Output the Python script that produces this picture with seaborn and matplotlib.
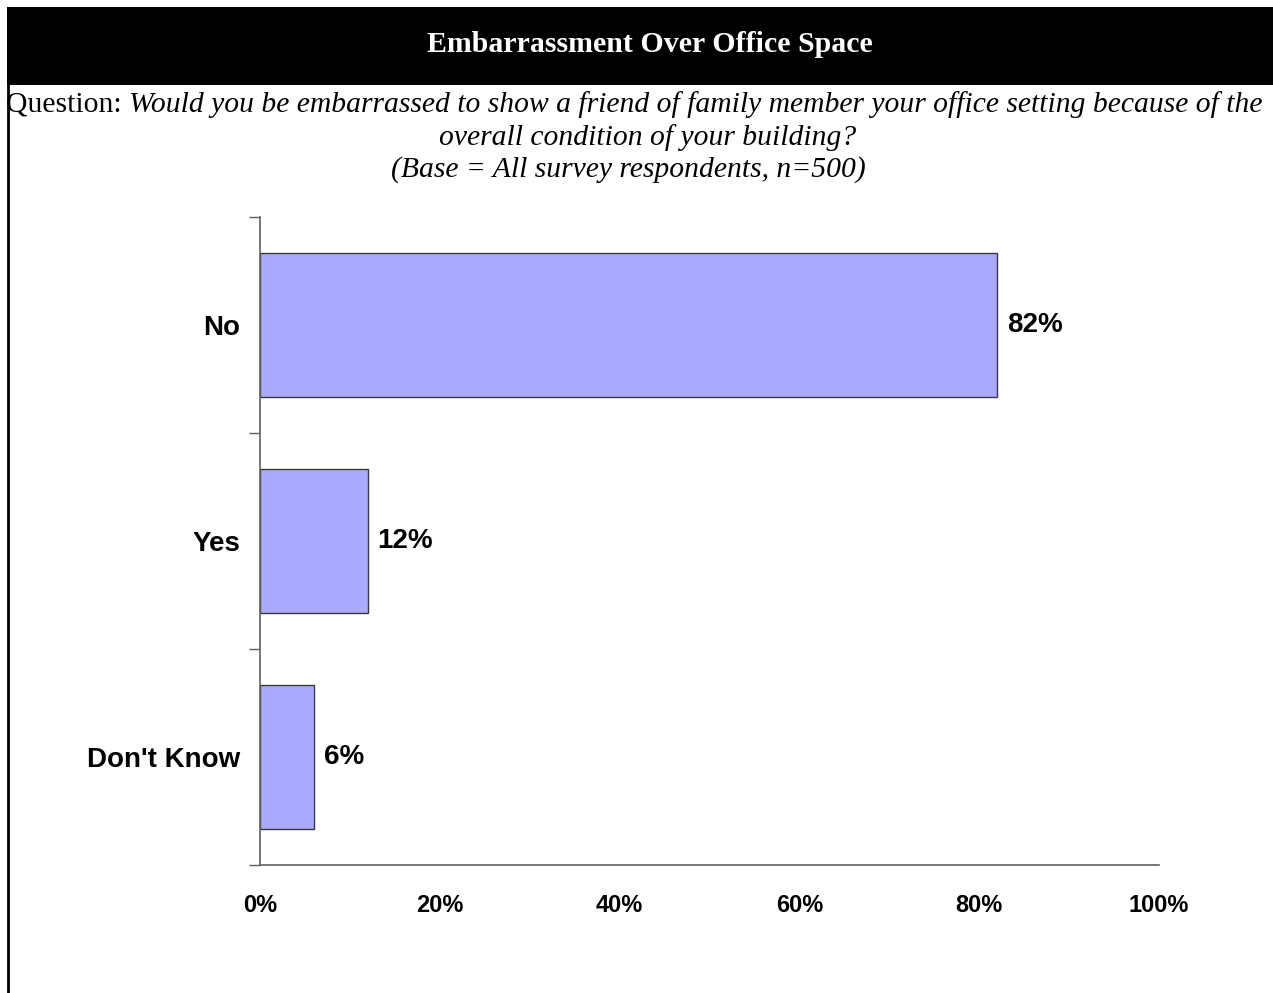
import matplotlib
matplotlib.use("Agg")
import matplotlib.pyplot as plt
from matplotlib.patches import Rectangle
from matplotlib.lines import Line2D
from matplotlib.ticker import FixedLocator, PercentFormatter
import seaborn as sns
import pandas as pd

# Chart data
categories = ["No", "Yes", "Don't Know"]
percents = [82, 12, 6]
x_ticks = [0, 20, 40, 60, 80, 100]

title = "Embarrassment Over Office Space"
question_lead = "Question:"
question_lines = [
    "Would you be embarrassed to show a friend of family member your office setting because of the",
    "overall condition of your building?",
    "(Base = All survey respondents, n=500)",
]

df = pd.DataFrame({"Answer": categories, "Percent": percents})

sns.set_style("white")
plt.rcParams["font.family"] = ["Liberation Sans", "DejaVu Sans"]
plt.rcParams["text.color"] = "black"
plt.rcParams["xtick.labelcolor"] = "black"
plt.rcParams["ytick.labelcolor"] = "black"

W, H = 1273, 993
fig = plt.figure(figsize=(W / 100, H / 100), dpi=100)
ax = fig.add_axes([260 / W, 1 - 865 / H, (1159 - 260) / W, (865 - 217) / H])

sns.barplot(data=df, x="Percent", y="Answer", orient="h", color="#AAAAFF",
            edgecolor="#3a3a3a", linewidth=1.0, width=0.67, saturation=1, ax=ax)

ax.set_xlim(0, 100)
ax.set_ylim(2.5, -0.5)
ax.set_xlabel("")
ax.set_ylabel("")

# axis styling
for side in ["top", "right"]:
    ax.spines[side].set_visible(False)
for side in ["left", "bottom"]:
    ax.spines[side].set_color("#606060")
    ax.spines[side].set_linewidth(1.2)

ax.set_xticks(x_ticks)
ax.xaxis.set_major_formatter(PercentFormatter(decimals=0))
ax.tick_params(axis="x", length=8, width=1, color="#606060", pad=13, direction="out",
               labelcolor="black")
for lbl in ax.get_xticklabels():
    lbl.set_fontsize(17)
    lbl.set_fontweight("bold")

ax.yaxis.set_minor_locator(FixedLocator([-0.5, 0.5, 1.5, 2.5]))
ax.tick_params(axis="y", which="major", length=0, pad=14, labelcolor="black")
ax.tick_params(axis="y", which="minor", length=8, width=1, color="#606060", direction="out", left=True)
for lbl in ax.get_yticklabels():
    lbl.set_fontsize(20)
    lbl.set_fontweight("bold")

# value labels
for i, v in enumerate(percents):
    ax.annotate(f"{v}%", xy=(v, i), xytext=(7, 0), textcoords="offset points",
                ha="left", va="center", fontsize=20, fontweight="bold", color="black")

# header band and frame
fig.patches.append(Rectangle((7 / W, 1 - 85 / H), 1 - 7 / W, 78 / H,
                             transform=fig.transFigure, facecolor="black",
                             edgecolor="none", zorder=0))
fig.lines.append(Line2D([8 / W, 8 / W], [0, 1 - 85 / H], transform=fig.transFigure,
                        color="black", linewidth=2))
fig.text(650 / W, 1 - 45 / H, title, ha="center", va="center", color="white",
         fontsize=21.5, fontweight="bold", family="Liberation Serif")

serif = "Liberation Serif"
q = fig.text(6 / W, 1 - 105 / H, question_lead + " ", ha="left", va="center",
             fontsize=21.3, family=serif)
fig.canvas.draw()
q_end = q.get_window_extent().x1
fig.text(q_end / W, 1 - 105 / H, question_lines[0], ha="left", va="center",
         fontsize=21.3, family=serif, style="italic")
fig.text(648 / W, 1 - 138 / H, question_lines[1], ha="center", va="center",
         fontsize=21.3, family=serif, style="italic")
fig.text(628 / W, 1 - 170 / H, question_lines[2], ha="center", va="center",
         fontsize=21.3, family=serif, style="italic")

fig.savefig("out.png", dpi=100, facecolor="white")
